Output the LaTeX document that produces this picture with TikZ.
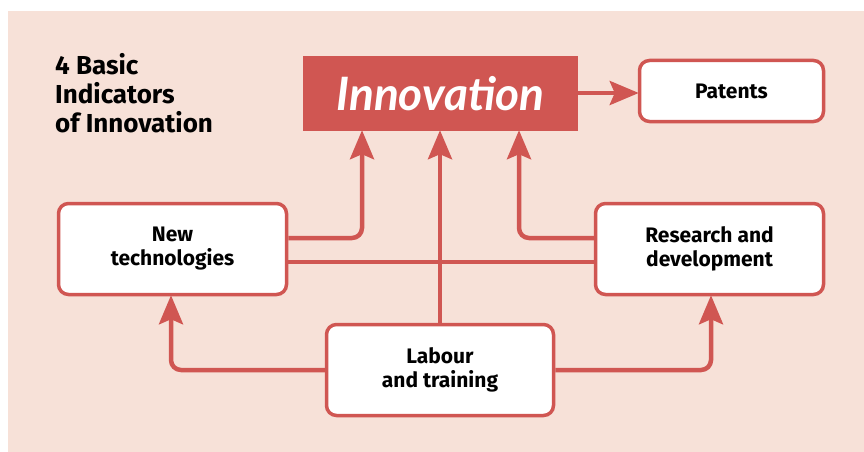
\documentclass[tikz,border=0pt]{standalone}
\usepackage{fontspec}
\setmainfont{Fira Sans}
\newfontfamily\innovfont{Lato}
\usetikzlibrary{arrows.meta}
\definecolor{bgpink}{HTML}{F7E1D8}
\definecolor{redc}{HTML}{D05652}
\tikzset{
  box/.style={draw=redc, line width=3.5pt, fill=white, rounded corners=10pt,
    align=center, font=\fontsize{21}{24}\selectfont\bfseries, inner sep=0pt},
  conn/.style={draw=redc, line width=4.5pt, rounded corners=10pt},
  arr/.style={conn, -{Stealth[length=29pt,width=24pt,inset=5pt]}, shorten >=-1pt},
}
\begin{document}
\begin{tikzpicture}[x=1pt,y=-1pt]
\useasboundingbox (0,0) rectangle (864,452);
\fill[bgpink] (8,11) rectangle (864,452);
% title
\node[anchor=north west, align=left, inner sep=0pt, font=\fontsize{26}{29}\selectfont\bfseries] (title) at (55,53) {4 Basic\\Indicators\\of Innovation};
% boxes
\node[fill=redc, minimum width=275pt, minimum height=75pt, inner sep=0pt,
  text=white, font=\innovfont\fontsize{46}{48}\selectfont\bfseries\itshape] (innov) at (440.5,93.5) {Innovation};
\node[box, minimum width=184pt, minimum height=61pt] (patents) at (731.5,91) {Patents};
\node[box, minimum width=228pt, minimum height=91pt] (newtech) at (172.5,249) {New\\technologies};
\node[box, minimum width=228pt, minimum height=91pt] (research) at (709.5,249) {Research and\\development};
\node[box, minimum width=227pt, minimum height=91pt] (labour) at (440,370) {Labour\\and training};
% connectors
\draw[arr] (innov.east |- 0,93) -- (patents.west |- 0,93);
\draw[arr] (newtech.east |- 0,238) -| (362,0 |- innov.south);
\draw[conn] (newtech.east |- 0,262) -- (research.west |- 0,262);
\draw[arr] (research.west |- 0,238) -| (519,0 |- innov.south);
\draw[arr] (labour.north) -- (labour.north |- innov.south);
\draw[arr] (labour.west |- 0,370) -| (171,0 |- newtech.south);
\draw[arr] (labour.east |- 0,370) -| (711,0 |- research.south);
\end{tikzpicture}
\end{document}
